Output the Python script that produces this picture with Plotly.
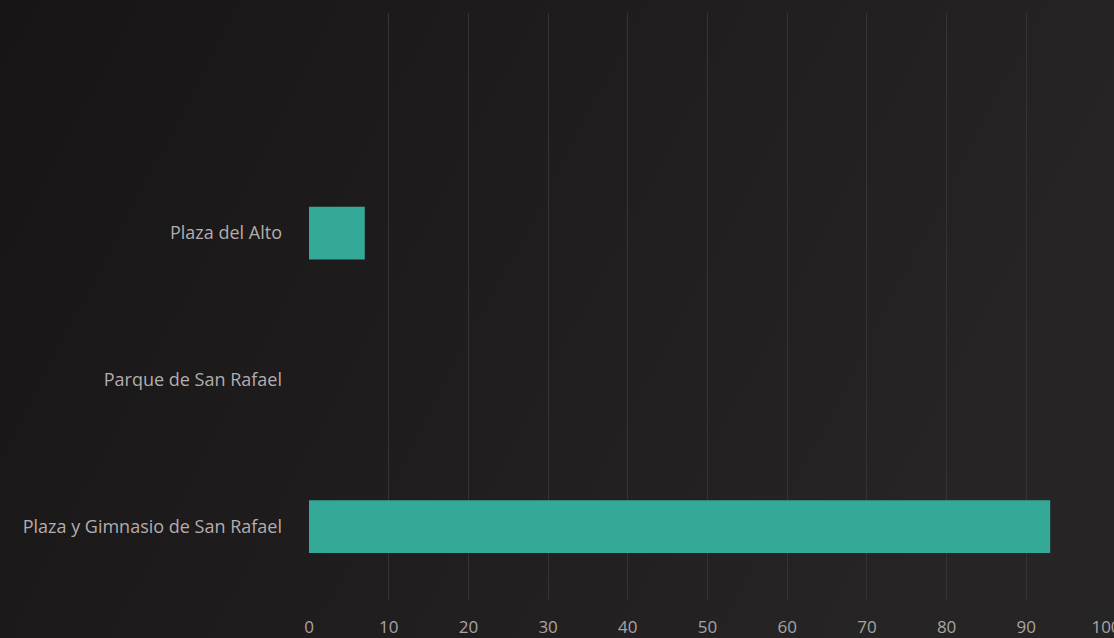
import base64
import plotly.graph_objects as go

categories = ["Plaza y Gimnasio de San Rafael", "Parque de San Rafael", "Plaza del Alto"]
values = [93, 0, 7]
x_ticks = [0, 10, 20, 30, 40, 50, 60, 70, 80, 90, 100]

fig = go.Figure(go.Bar(
    y=categories, x=values, orientation="h",
    marker=dict(color="#34a998", line=dict(width=0)),
    width=0.36,
))

svg = ('<svg xmlns="http://www.w3.org/2000/svg" width="1114" height="638">'
       '<defs><linearGradient id="g" x1="0" y1="0" x2="1" y2="0.3">'
       '<stop offset="0" stop-color="#181516"/><stop offset="1" stop-color="#262424"/>'
       '</linearGradient></defs><rect width="1114" height="638" fill="url(#g)"/></svg>')
bg_uri = "data:image/svg+xml;base64," + base64.b64encode(svg.encode()).decode()

W, H = 1114, 638
L, R, T, B = 309, 8, 13, 38
pw, ph = W - L - R, H - T - B

fig.update_layout(
    width=W, height=H,
    margin=dict(l=L, r=R, t=T, b=B, autoexpand=False),
    paper_bgcolor="#1e1c1c", plot_bgcolor="rgba(0,0,0,0)",
    showlegend=False,
    font=dict(family="Open Sans", color="#b3adad", size=18),
    images=[dict(source=bg_uri, xref="paper", yref="paper",
                 x=-L / pw, y=1 + T / ph, sizex=W / pw, sizey=H / ph,
                 xanchor="left", yanchor="top", sizing="stretch", layer="below")],
)
fig.update_xaxes(
    range=[0, 100], tickvals=x_ticks, showgrid=True, gridcolor="#363333", gridwidth=1,
    zeroline=False, showline=False, ticks="", ticklabelstandoff=15,
    ticklabeloverflow="allow",
    tickfont=dict(size=17, color="#a9a4a4"), automargin=False,
)
fig.update_yaxes(
    type="category", categoryarray=categories, range=[-0.5, 3.5],
    showgrid=False, zeroline=False, showline=False, ticks="", ticklabelstandoff=26,
    tickfont=dict(size=18, color="#b3adad"), automargin=False,
)

fig.write_html("out.html", config={"displayModeBar": False},
               post_script="document.body.style.margin='0';document.body.style.overflow='hidden';")
